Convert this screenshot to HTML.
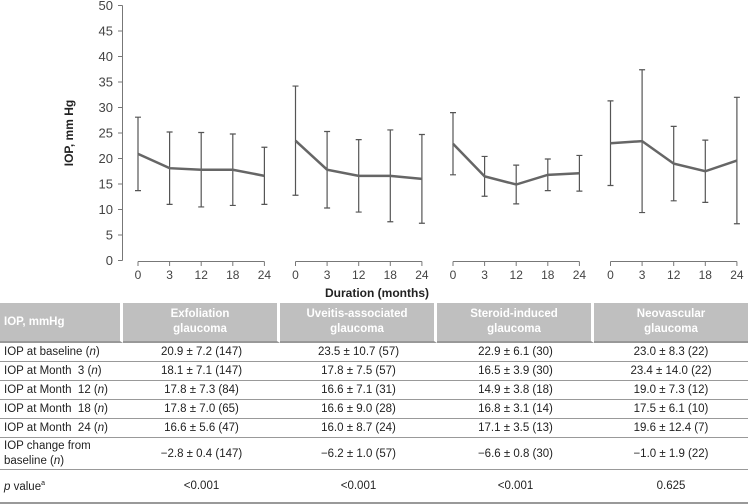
<!DOCTYPE html>
<html><head><meta charset="utf-8">
<style>
body{margin:0;width:748px;height:503px;background:#fff;font-family:"Liberation Sans",sans-serif;overflow:hidden;position:relative}
svg{position:absolute;left:0;top:0}
table{position:absolute;left:0;top:303px;width:748px;border-collapse:separate;border-spacing:0;font-size:11.5px;color:#222}
td,th{padding:0 4px;border-bottom:1px solid #999}
th{background:#bfbfbf;color:#fff;font-weight:bold;height:38px;border-right:3px solid #fff;border-bottom:2px solid #999;line-height:15px}
th:last-child{border-right:none}
td{text-align:center;height:18px}
td:first-child{text-align:left}
</style></head><body>
<svg width="748" height="300" id="chart"></svg>
<table>
<tr><th style="width:112px;text-align:left">IOP, mmHg</th><th style="width:146px">Exfoliation<br>glaucoma</th><th style="width:146px">Uveitis-associated<br>glaucoma</th><th style="width:146px">Steroid-induced<br>glaucoma</th><th style="width:146px">Neovascular<br>glaucoma</th></tr>
<tr><td>IOP at baseline (<i>n</i>)</td><td>20.9 ± 7.2 (147)</td><td>23.5 ± 10.7 (57)</td><td>22.9 ± 6.1 (30)</td><td>23.0 ± 8.3 (22)</td></tr>
<tr><td>IOP at Month&nbsp; 3 (<i>n</i>)</td><td>18.1 ± 7.1 (147)</td><td>17.8 ± 7.5 (57)</td><td>16.5 ± 3.9 (30)</td><td>23.4 ± 14.0 (22)</td></tr>
<tr><td>IOP at Month&nbsp; 12 (<i>n</i>)</td><td>17.8 ± 7.3 (84)</td><td>16.6 ± 7.1 (31)</td><td>14.9 ± 3.8 (18)</td><td>19.0 ± 7.3 (12)</td></tr>
<tr><td>IOP at Month&nbsp; 18 (<i>n</i>)</td><td>17.8 ± 7.0 (65)</td><td>16.6 ± 9.0 (28)</td><td>16.8 ± 3.1 (14)</td><td>17.5 ± 6.1 (10)</td></tr>
<tr><td>IOP at Month&nbsp; 24 (<i>n</i>)</td><td>16.6 ± 5.6 (47)</td><td>16.0 ± 8.7 (24)</td><td>17.1 ± 3.5 (13)</td><td>19.6 ± 12.4 (7)</td></tr>
<tr><td style="height:31px;line-height:15px">IOP change from<br>baseline (<i>n</i>)</td><td>−2.8 ± 0.4 (147)</td><td>−6.2 ± 1.0 (57)</td><td>−6.6 ± 0.8 (30)</td><td>−1.0 ± 1.9 (22)</td></tr>
<tr><td style="height:32px;border-bottom:2px solid #999"><i>p</i> value<sup style="font-size:7px">a</sup></td><td style="border-bottom:2px solid #999">&lt;0.001</td><td style="border-bottom:2px solid #999">&lt;0.001</td><td style="border-bottom:2px solid #999">&lt;0.001</td><td style="border-bottom:2px solid #999">0.625</td></tr>
</table>
<script>
const groups=["Exfoliation","Uveitis-associated","Steroid-induced","Neovascular"];
const months=["0","3","12","18","24"];
const means=[[20.9,18.1,17.8,17.8,16.6],[23.5,17.8,16.6,16.6,16.0],[22.9,16.5,14.9,16.8,17.1],[23.0,23.4,19.0,17.5,19.6]];
const sds=[[7.2,7.1,7.3,7.0,5.6],[10.7,7.5,7.1,9.0,8.7],[6.1,3.9,3.8,3.1,3.5],[8.3,14.0,7.3,6.1,12.4]];
const yTicks=[0,5,10,15,20,25,30,35,40,45,50];
const NS="http://www.w3.org/2000/svg",svg=document.getElementById("chart");
const y=v=>260.5-v*5.1;
const x=(g,i)=>138+g*157.5+i*31.6;
function mk(t,a,txt){const e=document.createElementNS(NS,t);for(const k in a)e.setAttribute(k,a[k]);if(txt!==undefined)e.textContent=txt;svg.appendChild(e);return e;}
let e=mk("line",{x1:122.5,x2:122.5,y1:y(50),y2:y(0),stroke:"#777"});


yTicks.forEach(t=>{
 mk("line",{x1:118,x2:122.5,y1:y(t),y2:y(t),stroke:"#777"});
 const l=mk("text",{x:113,y:y(t)+4.5,"text-anchor":"end","font-size":"13",fill:"#444"},t);
 
 
});
const yt=mk("text",{x:0,y:0,"font-size":"12","font-weight":"bold",fill:"#222","text-anchor":"middle",transform:"translate(73,133) rotate(-90)"},"IOP, mm Hg");


groups.forEach((g,gi)=>{
 const ax=mk("line",{x1:x(gi,0),x2:x(gi,4),y1:261.5,y2:261.5,stroke:"#777"});
 
 
 months.forEach((m,i)=>{
  mk("line",{x1:x(gi,i),x2:x(gi,i),y1:261.5,y2:266,stroke:"#777"});
  const l=mk("text",{x:x(gi,i),y:279,"text-anchor":"middle","font-size":"12",fill:"#444"},m);
  
  
  const hi=y(means[gi][i]+sds[gi][i]),lo=y(means[gi][i]-sds[gi][i]);
  const eb=mk("path",{d:`M${x(gi,i)},${hi}V${lo}M${x(gi,i)-3},${hi}h6M${x(gi,i)-3},${lo}h6`,stroke:"#555","stroke-width":1.2,fill:"none"});
  
  
 });
 const ln=mk("polyline",{points:means[gi].map((v,i)=>x(gi,i)+","+y(v)).join(" "),fill:"none",stroke:"#666","stroke-width":2.5});
 
 
});
const xt=mk("text",{x:377,y:297,"text-anchor":"middle","font-size":"12","font-weight":"bold",fill:"#222"},"Duration (months)");


</script>
</body></html>
